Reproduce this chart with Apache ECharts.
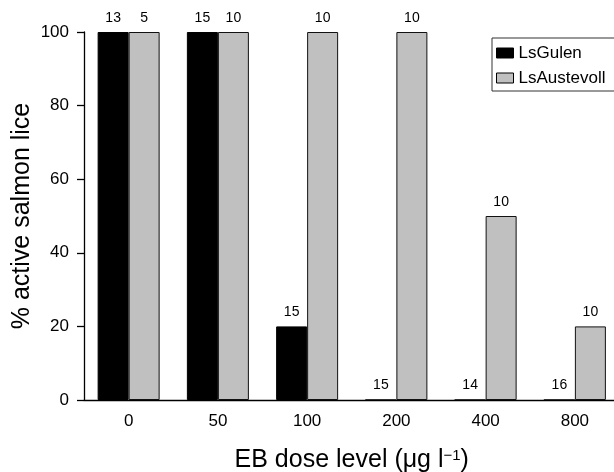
<!DOCTYPE html>
<html><head><meta charset="utf-8">
<script src="https://cdn.jsdelivr.net/npm/echarts@6/dist/echarts.min.js"></script>
<style>html,body{margin:0;padding:0;background:#fff}#c{width:614px;height:472px}</style>
</head><body><div id="c"></div>
<script>
const categories = ['0','50','100','200','400','800'];
const gulenValues = [100,100,20,0,0,0];
const austevollValues = [100,100,100,100,50,20];
const gulenN = [13,15,15,15,14,16];
const austevollN = [5,10,10,10,10,10];
const yTicks = [0,20,40,60,80,100];

const FONT = 'Liberation Sans, Arial, sans-serif';
const chart = echarts.init(document.getElementById('c'), null, {renderer:'canvas'});
chart.setOption({
  animation:false,
  backgroundColor:'#fff',
  grid:{left:84, top:32, width:535.5, height:368, containLabel:false, outerBoundsMode:'none'},
  legend:{
    orient:'vertical', left:492, top:38,
    padding:[6,20,4,4], borderColor:'#333', borderWidth:1, borderRadius:0,
    itemWidth:17, itemHeight:10, itemGap:7,
    textStyle:{fontFamily:FONT, fontSize:17, color:'#000', lineHeight:18},
    data:[
      {name:'LsGulen', icon:'rect', itemStyle:{color:'#000', borderColor:'#000', borderWidth:1}},
      {name:'LsAustevoll', icon:'rect', itemStyle:{color:'#c0c0c0', borderColor:'#000', borderWidth:1}}
    ]
  },
  xAxis:{
    type:'category', data:categories, boundaryGap:true,
    name:'EB dose level (μg l{sup|−1})', nameLocation:'middle', nameGap:48, nameMoveOverlap:false,
    nameTextStyle:{fontFamily:FONT, fontSize:25, color:'#000',
      rich:{sup:{fontFamily:FONT, fontSize:15, color:'#000', verticalAlign:'top', padding:[0,0,10,0]}}},
    axisLine:{lineStyle:{color:'#000', width:1.3}},
    axisTick:{alignWithLabel:true, length:5, lineStyle:{color:'#000', width:1.3}},
    axisLabel:{fontFamily:FONT, fontSize:17, color:'#000', margin:13}
  },
  yAxis:{
    type:'value', min:0, max:100, interval:20,
    name:'% active salmon lice', nameLocation:'middle', nameGap:49, nameRotate:90, nameMoveOverlap:false,
    nameTextStyle:{fontFamily:FONT, fontSize:25, color:'#000'},
    axisLine:{show:true, lineStyle:{color:'#000', width:1.3}},
    axisTick:{show:true, length:7, lineStyle:{color:'#000', width:1.3}},
    axisLabel:{fontFamily:FONT, fontSize:17, color:'#000', margin:15,
      formatter:v=>yTicks.includes(v)?String(v):''},
    splitLine:{show:false}
  },
  series:[
    {name:'LsGulen', type:'bar', data:gulenValues, barWidth:31, barGap:'0%',
     itemStyle:{color:'#000', borderColor:'#000', borderWidth:1},
     label:{show:true, position:'top', distance:7, fontFamily:FONT, fontSize:14, color:'#000',
       formatter:p=>String(gulenN[p.dataIndex])}},
    {name:'LsAustevoll', type:'bar', data:austevollValues, barWidth:31, barGap:'0%',
     itemStyle:{color:'#c0c0c0', borderColor:'#111', borderWidth:1},
     label:{show:true, position:'top', distance:7, fontFamily:FONT, fontSize:14, color:'#000',
       formatter:p=>String(austevollN[p.dataIndex])}}
  ]
});
</script></body></html>
